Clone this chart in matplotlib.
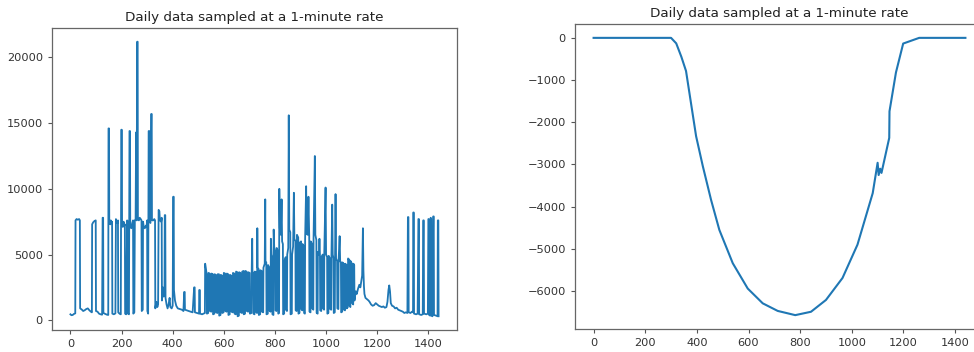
import matplotlib
matplotlib.use('Agg')
import matplotlib.pyplot as plt

# Left panel: spiky 1-minute signal (breakpoints)
minute = [0, 4, 9, 14, 19,
          20, 24, 29, 34, 37,
          38, 44, 50, 56, 62, 68, 74, 80, 84,
          85, 89, 94, 99,
          100, 106, 112, 118, 124,
          126, 128,
          129, 136, 143, 148,
          149, 151, 152, 156, 158, 161, 163,
          164, 170, 176,
          178, 180, 184, 186,
          187, 192, 197,
          199, 201, 202, 205, 208, 211, 213,
          214, 218, 222, 224, 225, 229,
          231, 233, 234, 238, 242, 245,
          246, 250, 252, 255, 257, 259, 261, 263, 264, 268, 271, 275, 278,
          279, 283, 284, 287, 291, 295, 298, 300,
          301, 304,
          306, 309, 310, 313, 316, 318, 319, 324, 328, 331,
          332, 336, 340, 343,
          345, 348, 350, 355, 357,
          358, 362, 365, 368, 369, 371,
          372, 376, 380, 384, 388, 391, 396, 400, 402, 404, 405, 409, 414, 420, 428, 436, 442,
          445, 447, 448, 455, 462, 470, 478,
          484, 486, 487, 495, 503,
          504, 506, 507, 515, 521, 526,
          527, 532, 533, 534, 539,
          540, 545, 546, 551,
          552, 557, 558, 563,
          564, 569, 570, 575,
          576, 581, 582, 587,
          588, 593, 594, 599,
          600, 605, 606, 611,
          612, 617, 618, 623,
          624, 629, 630, 635,
          636, 641, 642, 647,
          648, 653, 654, 659,
          660, 665, 666, 671,
          672, 677, 678, 683,
          684, 689, 690, 695,
          696, 701, 702, 708,
          709, 711, 712, 715, 716, 720,
          721, 726, 727, 730,
          731, 732, 736, 737, 742,
          743, 748, 749, 754,
          755, 760, 762, 763, 766, 767, 772,
          773, 778, 779, 783,
          784, 786, 789, 790, 794,
          795, 797, 801, 802, 806,
          807, 812, 813, 816,
          817, 819, 823, 826, 828, 831, 832, 836,
          837, 842, 843, 847,
          848, 852, 854, 856, 860, 861, 866,
          867, 871, 874, 876, 880, 881, 885,
          886, 891, 892, 896,
          897, 902, 903, 907,
          908, 913, 914, 917,
          918, 922, 924, 928, 931, 934, 935, 939,
          940, 945, 946, 950,
          951, 956, 958, 962, 963, 967,
          968, 972, 974, 976, 977, 981,
          982, 987, 988, 992,
          993, 998, 1000, 1004, 1005, 1009,
          1010, 1015, 1016, 1020,
          1021, 1024, 1026, 1029, 1030, 1034,
          1035, 1037, 1039, 1043, 1044, 1048,
          1049, 1053, 1055, 1058, 1059, 1063,
          1064, 1069, 1070, 1074,
          1075, 1080, 1081, 1085,
          1086, 1091, 1092, 1095,
          1096, 1101, 1102, 1106,
          1107, 1110, 1111, 1116, 1120, 1125, 1130, 1134, 1138, 1141, 1144, 1146,
          1148, 1150, 1154, 1160, 1166, 1170, 1176, 1182, 1188, 1194, 1200, 1206,
          1212, 1218, 1224, 1230, 1236, 1240, 1244, 1247, 1250, 1253, 1258, 1264,
          1270, 1276, 1282, 1288, 1294, 1300, 1306, 1312, 1318,
          1320, 1322, 1323, 1330, 1336, 1340,
          1341, 1343, 1344, 1352, 1358,
          1361, 1363, 1364, 1372, 1378,
          1380, 1382, 1383, 1392, 1398,
          1400, 1402, 1403, 1407,
          1409, 1411, 1412, 1416,
          1419, 1421, 1422, 1430, 1436,
          1437, 1439, 1440]

value = [450, 380, 400, 480, 520,
         7600, 7700, 7650, 7700, 7600,
         900, 820, 700, 760, 850, 900, 760, 650, 600,
         7300, 7450, 7550, 7600,
         700, 650, 500, 450, 420,
         7800, 7800,
         550, 480, 420, 400,
         14600, 14600, 7400, 7300, 7600, 7400, 7500,
         500, 450, 520,
         7700, 7500, 7400, 7600,
         600, 500, 450,
         14500, 14500, 7300, 7100, 7500, 7200, 7300,
         500, 450, 7600, 7500, 500, 450,
         14400, 14400, 7200, 7000, 7400, 7600,
         500, 600, 7600, 7700, 14300, 7600, 21200, 21200, 7700, 7600, 7800, 7700, 7600,
         700, 800, 7500, 7100, 7000, 7200, 7100, 7600,
         700, 500,
         14400, 14400, 7500, 7400, 15700, 15700, 7600, 7600, 7700, 7600,
         900, 1400, 1000, 1200,
         8400, 8300, 7600, 7500, 7800,
         1500, 2500, 1800, 2200, 8000, 8000,
         1700, 1200, 900, 1200, 1700, 1000, 900, 1100, 9400, 9400, 2300, 1500, 1100, 900, 850, 800, 700,
         2150, 2150, 800, 750, 700, 650, 600,
         2500, 2500, 600, 550, 500,
         2300, 2300, 500, 450, 500, 550,
         4300, 3600, 3500, 500, 550,
         3600, 3550, 700, 650,
         3550, 3500, 450, 500,
         3500, 3450, 600, 550,
         3500, 3500, 350, 400,
         3450, 3400, 550, 600,
         3600, 3550, 700, 650,
         3550, 3500, 400, 450,
         3450, 3400, 650, 600,
         3600, 3550, 500, 450,
         3700, 3650, 300, 350,
         3650, 3600, 600, 550,
         3700, 3750, 450, 500,
         3750, 3700, 700, 650,
         3650, 3600, 500, 550,
         3600, 6200, 3700, 3600, 500, 450,
         3700, 3650, 600, 550,
         7000, 4000, 3900, 400, 450,
         3800, 3750, 650, 600,
         4000, 4300, 9200, 4500, 4400, 450, 500,
         4200, 4000, 700, 650,
         6200, 5000, 4800, 450, 400,
         6900, 5600, 5200, 750, 700,
         5500, 5200, 500, 550,
         10000, 7000, 6500, 9200, 6000, 5800, 450, 500,
         4500, 4800, 800, 700,
         5000, 5500, 15600, 6900, 6700, 450, 500,
         5000, 5600, 9700, 6200, 6000, 750, 700,
         6500, 6300, 500, 550,
         5900, 6000, 850, 750,
         5800, 5600, 550, 500,
         6200, 10200, 6600, 6500, 9400, 6400, 650, 600,
         6000, 5800, 900, 800,
         6300, 12500, 6500, 6100, 550, 500,
         5200, 5000, 6200, 5000, 750, 700,
         4800, 5000, 900, 800,
         5200, 10100, 5000, 4800, 500, 550,
         4900, 4700, 850, 800,
         5000, 8800, 5000, 4700, 550, 600,
         4600, 9600, 4700, 4500, 900, 850,
         4600, 6400, 4500, 4400, 600, 650,
         4400, 4300, 800, 750,
         4300, 4200, 900, 1000,
         4700, 4600, 1100, 1000,
         4500, 4300, 1300, 1200,
         4300, 4200, 1500, 2200, 2000, 2400, 2700, 2500, 3000, 3400, 7000, 3800,
         2600, 2000, 1700, 1600, 1500, 1400, 1200, 1100, 1150, 1300, 1200, 1100,
         1050, 1000, 1050, 950, 1000, 1400, 2300, 2650, 2200, 1300, 1100, 1050,
         900, 950, 800, 750, 700, 650, 550, 600, 550,
         7850, 7850, 600, 550, 650, 600,
         8200, 8200, 500, 450, 500,
         7700, 7700, 450, 400, 450,
         7600, 7600, 500, 450, 500,
         7700, 7700, 400, 350,
         7800, 7700, 350, 300,
         7900, 7900, 400, 350, 300,
         7600, 7600, 300]

# Right panel: smooth cumulative curve
minute_r = [0, 300, 320, 340, 358, 371, 397, 423, 455, 487, 539, 597, 655, 713,
            781, 842, 900, 964, 1022, 1081, 1100, 1104, 1110, 1115, 1145, 1146,
            1171, 1199, 1261, 1440]
value_r = [0, 0, -130, -450, -785, -1300, -2330, -3040, -3840, -4550, -5340, -5940,
           -6290, -6470, -6570, -6490, -6210, -5690, -4900, -3680, -2960, -3250,
           -3100, -3200, -2370, -1740, -820, -135, 0, 0]

title = 'Daily data sampled at a 1-minute rate'

plt.rcParams['font.family'] = ['DejaVu Sans']
fig = plt.figure(figsize=(9.74, 3.52), dpi=100)

W, H = 974, 352
ax1 = fig.add_axes([52 / W, 22 / H, 405 / W, 302 / H])
ax2 = fig.add_axes([575 / W, 23 / H, 409 / W, 305 / H])

ax1.plot(minute, value, color='#1f77b4', linewidth=1.3)
ax2.plot(minute_r, value_r, color='#1f77b4', linewidth=1.5)

for ax in (ax1, ax2):
    ax.set_title(title, fontsize=9.7, color='#222222', pad=5)
    ax.tick_params(labelsize=8.2, length=3, colors='#555555', labelcolor='#333333')
    for s in ax.spines.values():
        s.set_color('#666666')
        s.set_linewidth(0.9)

ax1.set_xticks([0, 200, 400, 600, 800, 1000, 1200, 1400])
ax2.set_xticks([0, 200, 400, 600, 800, 1000, 1200, 1400])

fig.savefig('out.png', dpi=100)
